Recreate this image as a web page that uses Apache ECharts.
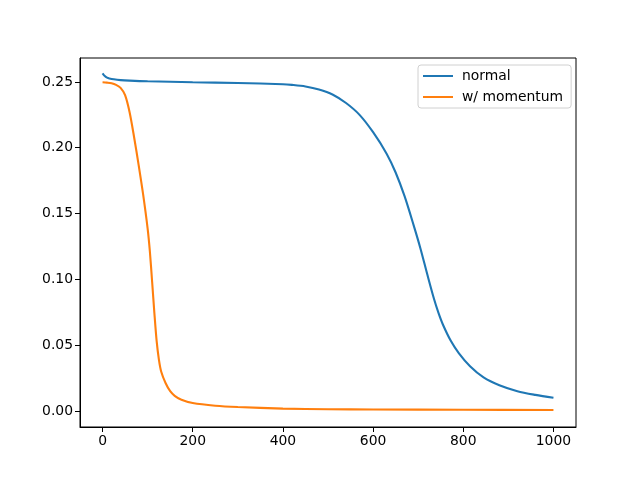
<!DOCTYPE html>
<html><head><meta charset="utf-8">
<script src="https://cdn.jsdelivr.net/npm/echarts@6/dist/echarts.min.js"></script>
<style>html,body{margin:0;padding:0;background:#fff}#c{width:640px;height:480px}</style>
</head><body><div id="c"></div>
<script>
const xNormal = [0,5,10,15,25,40,60,100,200,300,400,420,450,480,510,540,570,600,630,650,670,690,705,720,735,745,755,772,790,815,845,880,920,960,1000];
const yNormal = [0.2566,0.2545,0.2533,0.2527,0.2520,0.2514,0.2510,0.2505,0.2498,0.2492,0.2483,0.2478,0.2466,0.2443,0.2405,0.2340,0.2250,0.2118,0.1955,0.1812,0.1630,0.1410,0.1235,0.1040,0.0852,0.0745,0.0655,0.0535,0.0440,0.0340,0.0255,0.0195,0.0150,0.0122,0.0100];
const xMomentum = [0,10,20,30,40,50,60,70,80,90,100,105,110,115,120,125,130,140,150,160,175,200,250,300,400,500,600,800,1000];
const yMomentum = [0.2498,0.2495,0.2490,0.2478,0.2455,0.2400,0.2270,0.2080,0.1870,0.1645,0.1385,0.1210,0.0980,0.0742,0.0530,0.0390,0.0300,0.0210,0.0150,0.0115,0.0085,0.0060,0.0040,0.0030,0.0018,0.0013,0.0011,0.0009,0.0007];
const xTicks = [0,200,400,600,800,1000];
const yTicks = [0,0.05,0.10,0.15,0.20,0.25];
const seriesNames = ['normal','w/ momentum'];

const pair = (xs, ys) => xs.map((x,i)=>[x, ys[i]]);
const font = 'DejaVu Sans';
const chart = echarts.init(document.getElementById('c'), null, {renderer:'canvas'});
chart.setOption({
  animation:false,
  backgroundColor:'#fff',
  grid:{left:80,right:64,top:58,bottom:53,show:true,borderColor:'#000',borderWidth:1,backgroundColor:'transparent'},
  legend:{
    orient:'vertical', left:418, top:65, data:seriesNames,
    icon:'rect', itemWidth:30, itemHeight:2, itemGap:7,
    backgroundColor:'#fff', borderColor:'#d0d0d0', borderWidth:1, borderRadius:3,
    padding:[4,8,4,5],
    textStyle:{fontFamily:font,fontSize:13.9,color:'#000',padding:[0,0,0,4]}
  },
  xAxis:{type:'value',min:-50,max:1050,
    axisLine:{show:true,onZero:false,lineStyle:{color:'#000'}},
    axisTick:{show:true,length:5,customValues:xTicks,lineStyle:{color:'#000'}},
    axisLabel:{customValues:xTicks,color:'#000',fontFamily:font,fontSize:13.9,margin:7,formatter:v=>String(Math.round(v))},
    splitLine:{show:false}},
  yAxis:{type:'value',min:-0.0122,max:0.2682,
    axisLine:{show:true,onZero:false,lineStyle:{color:'#000'}},
    axisTick:{show:true,length:5,customValues:yTicks,lineStyle:{color:'#000'}},
    axisLabel:{customValues:yTicks,color:'#000',fontFamily:font,fontSize:13.9,margin:7,formatter:v=>v.toFixed(2)},
    splitLine:{show:false}},
  series:[
    {name:seriesNames[0],type:'line',data:pair(xNormal,yNormal),showSymbol:false,smooth:0.3,
     lineStyle:{color:'#1f77b4',width:2.1},itemStyle:{color:'#1f77b4'}},
    {name:seriesNames[1],type:'line',data:pair(xMomentum,yMomentum),showSymbol:false,smooth:0.3,
     lineStyle:{color:'#ff7f0e',width:2.1},itemStyle:{color:'#ff7f0e'}}
  ]
});
</script></body></html>
